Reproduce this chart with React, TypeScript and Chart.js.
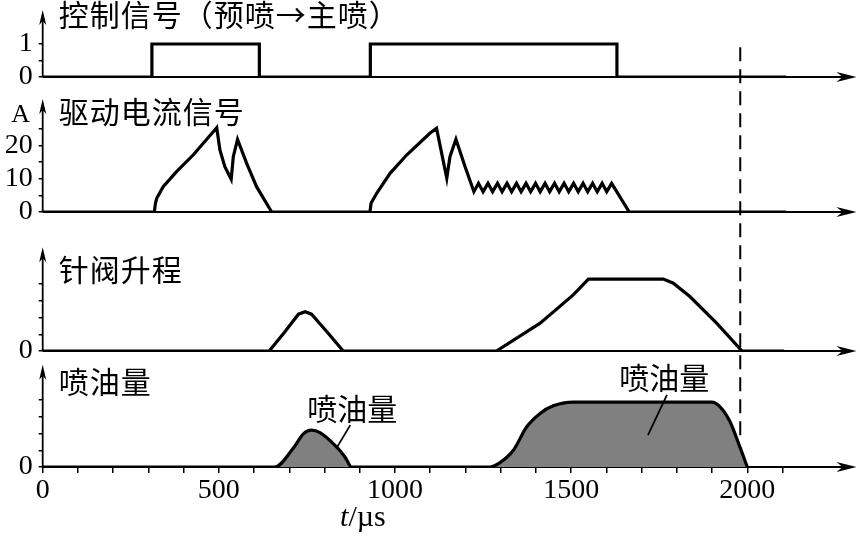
import { useEffect, useRef } from 'react';
import { Chart, registerables } from 'chart.js';

Chart.register(...registerables);

// ---------- shared x axis (time, µs) ----------
const X_MIN = 0;
const X_MAX = 2310;
const xTickValues = [0, 100, 200, 300, 400, 500, 600, 700, 800, 900, 1000, 1100, 1200, 1300, 1400, 1500, 1600, 1700, 1800, 1900, 2000, 2100];
const xLabelValues = [0, 500, 1000, 1500, 2000];

// ---------- texts ----------
const panelTitles = ['控制信号（预喷→主喷）', '驱动电流信号', '针阀升程', '喷油量'];
const annotationText = '喷油量';
const xTitleItalic = 't';
const xTitleRest = '/µs';
const currentUnit = 'A';

// ---------- panel 1: control signal ----------
const ctrlTime = [0, 310, 310, 615, 615, 930, 930, 1630, 1630, 2110];
const ctrlValue = [0, 0, 1, 1, 0, 0, 1, 1, 0, 0];
const ctrlTicks = [0, 0.5, 1];
const ctrlLabelled = [0, 1];

// ---------- panel 2: drive current (A) ----------
const currentTime = [
  0, 317, 320, 324, 342, 380, 427, 494, 503, 517, 535, 541, 553, 579, 607, 650,
  929, 932, 948, 986, 1033, 1099, 1118, 1147, 1156, 1173, 1199, 1224,
  1237, 1250, 1264, 1277, 1291, 1304, 1318, 1331, 1345, 1358, 1372, 1385, 1399, 1412,
  1426, 1439, 1453, 1466, 1480, 1493, 1507, 1520, 1534, 1547, 1561, 1574, 1588, 1601,
  1615, 1665, 2110,
];
const currentValue = [
  0, 0, 2.6, 4.2, 7.6, 12.1, 17.1, 25.3, 18.6, 13.6, 9.8, 16.6, 21.8, 14.6, 7.6, 0,
  0, 2.6, 5.6, 11.6, 17.1, 23.6, 25.1, 10.1, 16.6, 21.8, 13.6, 6.1,
  8.6, 6.1, 8.6, 6.1, 8.6, 6.1, 8.6, 6.1, 8.6, 6.1, 8.6, 6.1, 8.6, 6.1,
  8.6, 6.1, 8.6, 6.1, 8.6, 6.1, 8.6, 6.1, 8.6, 6.1, 8.6, 6.1, 8.6, 6.1,
  8.6, 0, 0,
];
const currentTicks = [0, 5, 10, 15, 20, 25];
const currentLabelled = [0, 10, 20];

// ---------- panel 3: needle lift ----------
const liftTime = [0, 643, 687, 726, 745, 763, 808, 853, 1288, 1412, 1506, 1549, 1762, 1790, 1837, 1913, 1985, 2105];
const liftValue = [0, 0, 1.14, 2.2, 2.35, 2.2, 1.12, 0, 0, 1.66, 3.35, 4.29, 4.29, 4.05, 3.25, 1.66, 0, 0];
const liftTicks = [0, 1, 2, 3, 4];
const liftLabelled = [0];

// ---------- panel 4: injection quantity ----------
const qtyTime = [0, 659, 711, 740, 763, 787, 834, 858, 877, 1270, 1298, 1336, 1374, 1412, 1449, 1506, 1899, 1922, 1951, 1979, 2000];
const qtyValue = [0, 0, 1.12, 1.98, 2.2, 2.05, 1.2, 0.6, 0, 0, 0.26, 1.0, 2.4, 3.2, 3.65, 3.87, 3.87, 3.6, 2.7, 1.2, 0];
const qtyTicks = [0, 1, 2, 3, 4];
const qtyLabelled = [0];

// end of main injection marker
const dashedTime = 1980;

const SERIF = '"Liberation Serif", "Times New Roman", serif';
const CJK = '"Noto Sans CJK SC", "Noto Sans", sans-serif';

const toPoints = (t: number[], v: number[]) => t.map((x, i) => ({ x, y: v[i] }));

const yScale = (
  weight: number,
  stackWeight: number,
  max: number,
  tickValues: number[],
  labelled: number[],
) => ({
  type: 'linear' as const,
  position: 'left' as const,
  stack: 'panels',
  stackWeight,
  weight,
  min: 0,
  max,
  border: { display: false },
  grid: { drawOnChartArea: false, drawTicks: true, tickLength: 4, color: '#000', lineWidth: 1.5 },
  ticks: {
    autoSkip: false,
    padding: 6,
    color: '#000',
    font: { family: SERIF, size: 28 },
    callback: (v: number) => (labelled.includes(v) ? String(v) : ''),
  },
  afterBuildTicks: (s: any) => {
    s.ticks = tickValues.map((value) => ({ value }));
  },
  afterFit: (s: any) => {
    s.width = 42.7;
    s.paddingTop = 0;
    s.paddingBottom = 0;
  },
});

const drawArrow = (ctx: CanvasRenderingContext2D, x: number, y: number, dir: 'up' | 'right', len: number, half: number, notch: number) => {
  ctx.beginPath();
  if (dir === 'up') {
    ctx.moveTo(x, y);
    ctx.lineTo(x - half, y + len);
    ctx.lineTo(x, y + len - notch);
    ctx.lineTo(x + half, y + len);
  } else {
    ctx.moveTo(x, y);
    ctx.lineTo(x - len, y - half);
    ctx.lineTo(x - len + notch, y);
    ctx.lineTo(x - len, y + half);
  }
  ctx.closePath();
  ctx.fill();
};

// axis tip values per panel
const axisTips: [string, number][] = [
  ['y1', 2.03],
  ['y2', 33.9],
  ['y3', 6.2],
  ['y4', 6.1],
];

const axesPlugin = {
  id: 'axesArrows',
  beforeDatasetsDraw(chart: any) {
    const { ctx, scales } = chart;
    const xs = scales.x;
    const x0 = xs.getPixelForValue(X_MIN);
    const xr = xs.getPixelForValue(X_MAX);
    ctx.save();
    ctx.strokeStyle = '#000';
    ctx.fillStyle = '#000';
    ctx.lineWidth = 1.8;
    for (const [id, tip] of axisTips) {
      const ys = scales[id];
      const yb = ys.getPixelForValue(0);
      const yt = ys.getPixelForValue(tip);
      ctx.beginPath();
      ctx.moveTo(x0, yb);
      ctx.lineTo(x0, yt + 6);
      ctx.moveTo(x0, yb);
      ctx.lineTo(xr - 8, yb);
      ctx.stroke();
      drawArrow(ctx, x0, yt, 'up', 15, 3.5, 4);
      drawArrow(ctx, xr, yb, 'right', 20, 5, 6);
    }
    ctx.restore();
  },
  afterDatasetsDraw(chart: any) {
    const { ctx, scales, chartArea } = chart;
    const xs = scales.x;
    const x0 = xs.getPixelForValue(X_MIN);
    ctx.save();
    ctx.strokeStyle = '#000';
    ctx.fillStyle = '#000';

    // dashed marker
    const xd = xs.getPixelForValue(dashedTime);
    ctx.lineWidth = 2;
    ctx.setLineDash([14, 8]);
    ctx.beginPath();
    ctx.moveTo(xd, scales.y1.getPixelForValue(0.9));
    ctx.lineTo(xd, scales.y4.getPixelForValue(1.8));
    ctx.stroke();
    ctx.setLineDash([]);

    // panel titles
    ctx.font = `30px ${CJK}`;
    ctx.textAlign = 'left';
    ctx.textBaseline = 'middle';
    (ctx as any).letterSpacing = '1px';
    const titlePos: [string, number][] = [
      ['y1', 1.88],
      ['y2', 30],
      ['y3', 4.84],
      ['y4', 5.07],
    ];
    titlePos.forEach(([id, v], i) => {
      ctx.fillText(panelTitles[i], x0 + 16, scales[id].getPixelForValue(v));
    });
    (ctx as any).letterSpacing = '0px';

    // annotations
    ctx.textAlign = 'center';
    ctx.fillText(annotationText, xs.getPixelForValue(879), scales.y4.getPixelForValue(3.46));
    ctx.fillText(annotationText, xs.getPixelForValue(1764), scales.y4.getPixelForValue(5.31));
    ctx.lineWidth = 1.8;
    ctx.beginPath();
    ctx.moveTo(xs.getPixelForValue(873), scales.y4.getPixelForValue(2.5));
    ctx.lineTo(xs.getPixelForValue(836), scales.y4.getPixelForValue(1.2));
    ctx.moveTo(xs.getPixelForValue(1772), scales.y4.getPixelForValue(4.3));
    ctx.lineTo(xs.getPixelForValue(1718), scales.y4.getPixelForValue(1.9));
    ctx.stroke();

    // unit "A"
    ctx.font = `26px ${SERIF}`;
    ctx.textAlign = 'center';
    ctx.fillText(currentUnit, x0 - 22, scales.y2.getPixelForValue(29.1));

    // x axis title t/µs
    const tx = xs.getPixelForValue(909);
    const ty = chartArea.bottom + 51;
    ctx.font = `italic 30px ${SERIF}`;
    const w1 = ctx.measureText(xTitleItalic).width;
    ctx.font = `30px ${SERIF}`;
    const w2 = ctx.measureText(xTitleRest).width;
    const start = tx - (w1 + w2) / 2;
    ctx.textAlign = 'left';
    ctx.font = `italic 30px ${SERIF}`;
    ctx.fillText(xTitleItalic, start, ty);
    ctx.font = `30px ${SERIF}`;
    ctx.fillText(xTitleRest, start + w1, ty);
    ctx.restore();
  },
};

export default function App() {
  const canvasRef = useRef<HTMLCanvasElement | null>(null);

  useEffect(() => {
    if (!canvasRef.current) return;
    const lineStyle = {
      borderColor: '#000',
      borderWidth: 3.2,
      pointRadius: 0,
      tension: 0,
      borderJoinStyle: 'miter' as const,
    };
    const chart = new Chart(canvasRef.current, {
      type: 'line',
      data: {
        datasets: [
          { ...lineStyle, label: '控制信号', data: toPoints(ctrlTime, ctrlValue), yAxisID: 'y1', fill: false },
          { ...lineStyle, label: '驱动电流信号', data: toPoints(currentTime, currentValue), yAxisID: 'y2', fill: false },
          { ...lineStyle, label: '针阀升程', data: toPoints(liftTime, liftValue), yAxisID: 'y3', fill: false },
          {
            ...lineStyle,
            label: '喷油量',
            data: toPoints(qtyTime, qtyValue),
            yAxisID: 'y4',
            fill: 'origin',
            backgroundColor: '#808080',
            cubicInterpolationMode: 'monotone' as const,
          },
        ],
      },
      options: {
        animation: false,
        responsive: false,
        parsing: false as any,
        layout: { padding: { left: 0, right: 3.5, top: 0, bottom: 0 } },
        plugins: { legend: { display: false }, tooltip: { enabled: false }, title: { display: false } },
        scales: {
          x: {
            type: 'linear',
            position: 'bottom',
            min: X_MIN,
            max: X_MAX,
            border: { display: false },
            grid: { drawOnChartArea: false, drawTicks: true, tickLength: 6, color: '#000', lineWidth: 1.5 },
            ticks: {
              autoSkip: false,
              maxRotation: 0,
              padding: 1,
              color: '#000',
              font: { family: SERIF, size: 28 },
              callback: (v: any) => (xLabelValues.includes(v) ? String(v) : ''),
            },
            afterBuildTicks: (s: any) => {
              s.ticks = xTickValues.map((value) => ({ value }));
            },
            afterFit: (s: any) => {
              s.height = 69;
              s.paddingLeft = 0;
              s.paddingRight = 0;
            },
          },
          y1: yScale(4, 77, 77 / 33, ctrlTicks, ctrlLabelled),
          y2: yScale(3, 135, 135 / 3.333, currentTicks, currentLabelled),
          y3: yScale(2, 139, 139 / 16.75, liftTicks, liftLabelled),
          y4: yScale(1, 116, 116 / 16.75, qtyTicks, qtyLabelled),
        } as any,
      },
      plugins: [axesPlugin],
    });
    return () => chart.destroy();
  }, []);

  return (
    <div style={{ position: 'fixed', left: 0, top: 0, width: 860, height: 536, background: '#fff' }}>
      <canvas ref={canvasRef} width={860} height={536} style={{ display: 'block' }} />
    </div>
  );
}
